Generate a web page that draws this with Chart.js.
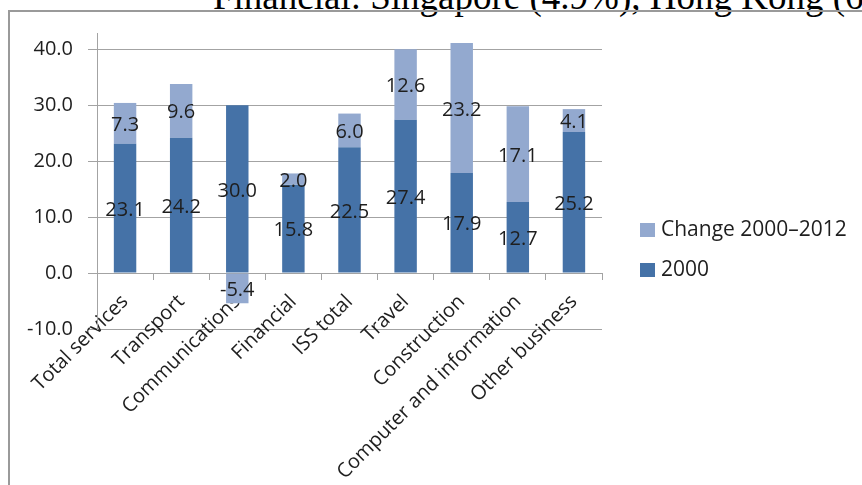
<!DOCTYPE html>
<html>
<head>
<meta charset="utf-8">
<title>Services: 2000 and change 2000–2012</title>
<script src="https://cdn.jsdelivr.net/npm/chart.js"></script>
<style>
    html, body { margin: 0; padding: 0; background: #fff; }
    #wrap { position: relative; width: 862px; height: 485px; overflow: hidden; }
    #doc-text { position: absolute; left: 213px; top: -22px; font: 37px/37px 'Liberation Serif', serif; color: #000; white-space: nowrap; }
    #frame { position: absolute; left: 8px; top: 10px; width: 900px; height: 500px; border-left: 2px solid #9a9a9a; border-top: 2px solid #9a9a9a; }
    canvas { position: absolute; left: 0; top: 0; }
</style>
</head>
<body>
<div id="wrap">
    <div id="doc-text">Financial: Singapore (4.9%), Hong Kong (6</div>
    <div id="frame"></div>
    <canvas id="servicesChart" width="862" height="485"></canvas>
</div>
<script>
const categories = ['Total services', 'Transport', 'Communications', 'Financial', 'ISS total',
    'Travel', 'Construction', 'Computer and information', 'Other business'];
const values2000 = [23.1, 24.2, 30.0, 15.8, 22.5, 27.4, 17.9, 12.7, 25.2];
const change2000to2012 = [7.3, 9.6, -5.4, 2.0, 6.0, 12.6, 23.2, 17.1, 4.1];
const yTickValues = [-10, 0, 10, 20, 30, 40];

const FONT = "'Open Sans', sans-serif";
const TEXT_COLOR = '#1e1e1e';
const GRID_COLOR = '#a3a3a3';

// numbers in the middle of each bar segment
const segmentLabels = {
    id: 'segmentLabels',
    afterDatasetsDraw(chart) {
        const ctx = chart.ctx;
        ctx.save();
        ctx.font = '20px ' + FONT;
        ctx.fillStyle = TEXT_COLOR;
        ctx.textAlign = 'center';
        ctx.textBaseline = 'middle';
        chart.data.datasets.forEach((ds, di) => {
            chart.getDatasetMeta(di).data.forEach((bar, i) => {
                const { x, y, base } = bar.getProps(['x', 'y', 'base'], true);
                ctx.fillText(ds.data[i].toFixed(1), x, (y + base) / 2 + 2);
            });
        });
        ctx.restore();
    }
};

// legend to the right, top series listed first
const sideLegend = {
    id: 'sideLegend',
    afterDraw(chart) {
        const ctx = chart.ctx;
        const left = chart.chartArea.right + 38;
        ctx.save();
        ctx.font = '21px ' + FONT;
        ctx.textBaseline = 'middle';
        chart.data.datasets.slice().reverse().forEach((ds, i) => {
            const cy = 230 + i * 40;
            ctx.fillStyle = ds.backgroundColor;
            ctx.fillRect(left, cy - 7, 15, 14);
            ctx.fillStyle = TEXT_COLOR;
            ctx.fillText(ds.label, left + 21, cy);
        });
        ctx.restore();
    }
};

const ctx = document.getElementById('servicesChart').getContext('2d');

new Chart(ctx, {
    type: 'bar',
    data: {
        labels: categories,
        datasets: [
            { label: '2000', data: values2000, backgroundColor: '#4572A7' },
            { label: 'Change 2000–2012', data: change2000to2012, backgroundColor: '#93A9CF' }
        ]
    },
    options: {
        responsive: false,
        animation: false,
        devicePixelRatio: 1,
        barPercentage: 0.4,
        categoryPercentage: 1,
        layout: { padding: { left: 0, top: 33, right: 260, bottom: 156 } },
        plugins: {
            legend: { display: false },
            tooltip: { enabled: false }
        },
        scales: {
            x: {
                stacked: true,
                position: { y: 0 },
                afterFit(scale) { scale.height = 0; },
                grid: { drawOnChartArea: false, drawTicks: true, tickLength: 6, color: GRID_COLOR, offset: true },
                border: { color: GRID_COLOR },
                ticks: {
                    autoSkip: false,
                    minRotation: 45,
                    maxRotation: 45,
                    padding: 11,
                    color: TEXT_COLOR,
                    font: { family: FONT, size: 20 }
                }
            },
            y: {
                stacked: true,
                min: -10,
                max: 42.9,
                afterFit(scale) { scale.width = 97; },
                afterBuildTicks(scale) { scale.ticks = yTickValues.map(v => ({ value: v })); },
                grid: { color: GRID_COLOR, tickLength: 9 },
                border: { color: GRID_COLOR },
                ticks: {
                    padding: 15,
                    color: TEXT_COLOR,
                    font: { family: FONT, size: 20 },
                    callback: v => Number(v).toFixed(1)
                }
            }
        }
    },
    plugins: [segmentLabels, sideLegend]
});
</script>
</body>
</html>
